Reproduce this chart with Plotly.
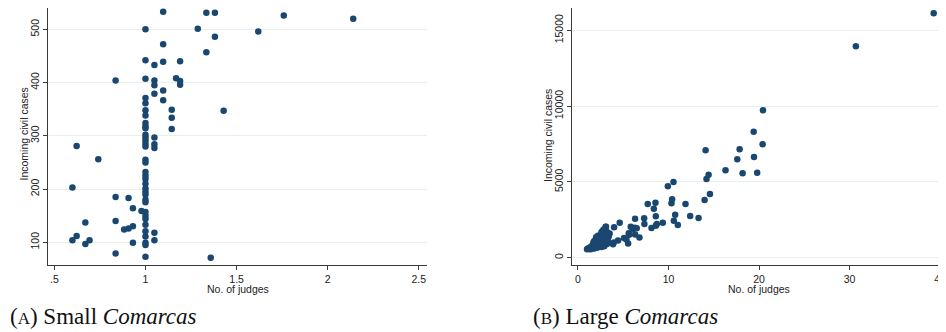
import plotly.graph_objects as go

# ---------------- Data: (A) Small Comarcas ----------------
small_judges = [
    1.097, 1.334, 1.381, 1.759, 2.14, 1.0, 1.287, 1.619, 1.381, 1.097,
    1.334, 1.0, 1.097, 1.049, 1.19, 0.836, 1.0, 1.049, 1.049, 1.168,
    1.19, 1.19, 1.097, 1.049, 1.097, 1.429, 1.144, 1.144, 1.144, 1.049,
    1.049, 1.049, 0.622, 0.741, 0.599, 0.836, 0.907, 0.931, 0.978, 0.836,
    0.670, 0.883, 0.907, 0.931, 1.049, 1.049, 0.599, 0.622, 0.693, 0.670,
    0.931, 0.836, 1.0, 1.358,
    1.0, 1.0, 1.0, 1.0, 1.0, 1.0, 1.0, 1.0, 1.0, 1.0,
    1.0, 1.0, 1.0, 1.0, 1.0, 1.0, 1.0, 1.0, 1.0, 1.0,
    1.0, 1.0, 1.0, 1.0, 1.0, 1.0, 1.0, 1.0, 1.0, 1.0, 1.0,
]
small_cases = [
    533, 531, 531, 526, 520, 500, 501, 496, 486, 472,
    457, 442, 439, 433, 440, 404, 407, 404, 395, 408,
    403, 396, 385, 379, 367, 347, 349, 334, 313, 297,
    284, 277, 281, 256, 203, 185, 183, 164, 159, 140,
    137, 124, 126, 130, 118, 104, 104, 112, 104, 97,
    99, 79, 73, 71,
    371, 361, 348, 338, 324, 318, 314, 302, 297, 291,
    285, 280, 255, 250, 232, 225, 219, 210, 201, 195,
    190, 180, 175, 157, 150, 144, 133, 121, 111, 99, 95,
]

# ---------------- Data: (B) Large Comarcas ----------------
large_judges = [
    39.3, 30.7, 20.44, 19.41, 20.4, 17.86, 14.1, 19.45, 17.6, 16.3,
    18.19, 19.8, 14.43, 14.2, 10.55, 9.93, 14.58, 13.99, 10.4, 10.33,
    7.71, 8.56, 11.88, 8.38, 10.74, 8.6, 12.4, 13.32, 6.31, 7.31,
    10.59, 11.03, 9.37, 8.71, 8.6, 8.12, 7.34, 4.61, 3.99, 3.06,
    6.27, 5.83, 6.49, 6.05, 6.31, 5.65, 5.09, 5.35, 5.54, 6.79,
    4.43, 3.95, 3.87, 5.61,
    1.0, 1.1, 1.2, 1.3, 1.4, 1.5, 1.5, 1.6, 1.7, 1.8,
    1.8, 1.9, 1.9, 2.0, 2.0, 2.0, 2.1, 2.1, 2.2, 2.2,
    2.2, 2.3, 2.3, 2.4, 2.4, 2.5, 2.5, 2.5, 2.6, 2.6,
    2.7, 2.7, 2.8, 2.8, 2.9, 2.9, 3.0, 3.0, 3.0, 3.1,
    3.2, 3.3, 3.5, 3.4, 2.0, 1.7, 1.8, 2.6, 2.8, 3.0,
    1.2, 1.4, 1.6, 2.4, 2.1, 3.2, 3.3, 2.9, 3.05, 2.95,
]
large_cases = [
    16118, 13942, 9720, 8312, 7477, 7147, 7081, 6641, 6487, 5761,
    5563, 5607, 5475, 5190, 4992, 4706, 4200, 3804, 3848, 3584,
    3540, 3628, 3540, 3232, 2837, 2727, 2749, 2617, 2573, 2595,
    2441, 2155, 2309, 2221, 2111, 1957, 2221, 2309, 2001, 2045,
    1979, 2045, 1935, 1869, 1539, 1517, 1297, 1209, 945, 1341,
    1143, 1011, 880, 1609,
    560, 600, 580, 620, 560, 650, 600, 700, 640, 720,
    600, 800, 680, 900, 750, 1100, 650, 1000, 850, 1200,
    1450, 700, 950, 1100, 1300, 800, 1000, 1500, 1200, 700,
    900, 1400, 1100, 1650, 1300, 750, 1900, 1500, 1000, 2050,
    1700, 1550, 1600, 1400, 1350, 1000, 1100, 1700, 1850, 1750,
    620, 700, 820, 900, 1250, 900, 1100, 800, 1200, 1650,
]

small_xticks = [0.5, 1, 1.5, 2, 2.5]
small_xtext = [".5", "1", "1.5", "2", "2.5"]
small_yticks = [100, 200, 300, 400, 500]
large_xticks = [0, 10, 20, 30, 40]
large_yticks = [0, 5000, 10000, 15000]

# The page body adds an 8px margin; the figure is sized to fill the rest.
OFF = 8
W, H = 946 - OFF, 332 - OFF
NAVY = "#1a476f"
AXC = "#3a3a3a"
GRID = "#e6eff1"
TXT = "#222222"
FONT = "Liberation Sans"


def px_x(p):
    return min(1.0, max(0.0, (p - OFF) / W))


def px_y(p):
    return min(1.0, max(0.0, 1 - (p - OFF) / H))


fig = go.Figure()
fig.add_trace(go.Scatter(x=small_judges, y=small_cases, mode="markers",
                         marker=dict(color=NAVY, size=6.5, line=dict(width=0)),
                         xaxis="x", yaxis="y", showlegend=False, cliponaxis=False))
fig.add_trace(go.Scatter(x=large_judges, y=large_cases, mode="markers",
                         marker=dict(color=NAVY, size=6.5, line=dict(width=0)),
                         xaxis="x2", yaxis="y2", showlegend=False, cliponaxis=False))

common = dict(showline=True, linecolor=AXC, linewidth=1, ticks="outside",
              ticklen=4, tickcolor=AXC, tickwidth=1, zeroline=False,
              ticklabeloverflow="allow",
              tickfont=dict(family=FONT, size=10.5, color=TXT))

fig.update_layout(
    width=W, height=H, margin=dict(l=0, r=0, t=0, b=0),
    paper_bgcolor="white", plot_bgcolor="white",
    xaxis=dict(domain=[px_x(48), px_x(427)], range=[0.465, 2.545],
               tickvals=small_xticks, ticktext=small_xtext, showgrid=False,
               anchor="y", **common),
    yaxis=dict(domain=[px_y(265), px_y(8)], range=[57.4, 540],
               tickvals=small_yticks, showgrid=True, gridcolor=GRID, gridwidth=1,
               tickangle=-90, anchor="x", **common),
    xaxis2=dict(domain=[px_x(572), 1.0], range=[-0.66, 40.66],
                tickvals=large_xticks, showgrid=False, anchor="y2", **common),
    yaxis2=dict(domain=[px_y(265), px_y(8)], range=[-481, 16471],
                tickvals=large_yticks, tickformat="d", showgrid=True,
                gridcolor=GRID, gridwidth=1, tickangle=-90, anchor="x2", **common),
)

title_font = dict(family=FONT, size=10.5, color=TXT)
ann = [
    dict(text="Incoming civil cases", x=px_x(23), y=px_y(134.5), textangle=-90),
    dict(text="Incoming civil cases", x=px_x(548), y=px_y(136), textangle=-90),
    dict(text="No. of judges", x=px_x(237.5), y=px_y(289)),
    dict(text="No. of judges", x=px_x(759), y=px_y(289)),
]
for a in ann:
    fig.add_annotation(xref="paper", yref="paper", showarrow=False,
                       xanchor="center", yanchor="middle", font=title_font, **a)

cap_font = dict(family="Liberation Serif", size=23, color="#111111")
fig.add_annotation(text="(<span style='font-size:17px'>A</span>) Small <i>Comarcas</i>",
                   x=px_x(8), y=px_y(316), xref="paper", yref="paper",
                   xanchor="left", yanchor="middle", showarrow=False, font=cap_font)
fig.add_annotation(text="(<span style='font-size:17px'>B</span>) Large <i>Comarcas</i>",
                   x=px_x(531), y=px_y(316), xref="paper", yref="paper",
                   xanchor="left", yanchor="middle", showarrow=False, font=cap_font)

fig.write_html("out.html")
